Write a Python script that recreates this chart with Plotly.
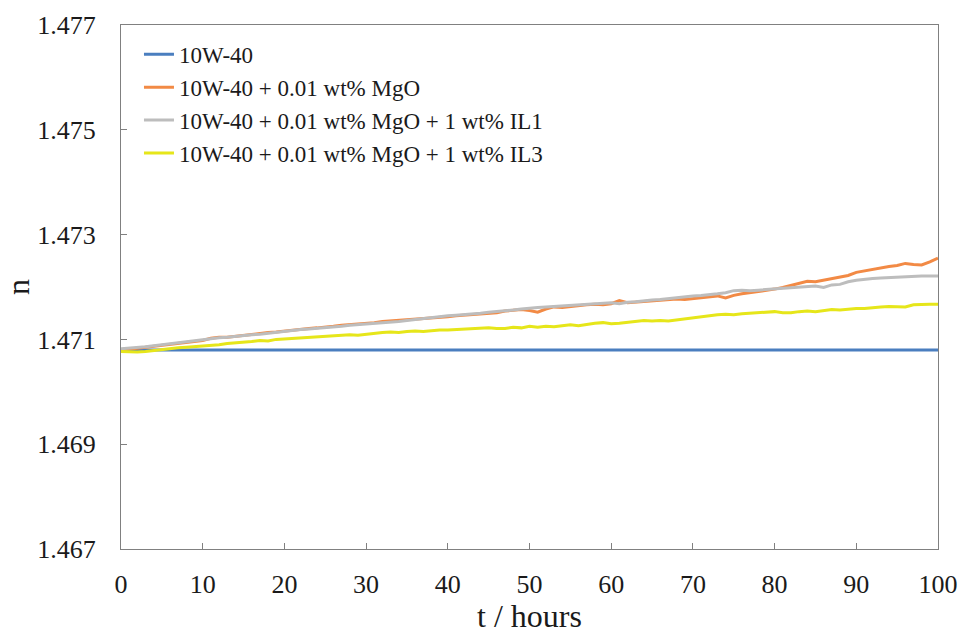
import plotly.graph_objects as go

t_hours = list(range(0, 101))

n_mgo_il1 = [
    1.47082, 1.47083, 1.47084, 1.47086, 1.47088, 1.47090, 1.47091, 1.47094, 1.47095, 1.47097, 1.47099,
    1.47101, 1.47103, 1.47104, 1.47106, 1.47107, 1.47109, 1.47110, 1.47112, 1.47114, 1.47116,
    1.47117, 1.47119, 1.47120, 1.47121, 1.47123, 1.47124, 1.47125, 1.47127, 1.47128, 1.47129,
    1.47130, 1.47132, 1.47133, 1.47134, 1.47136, 1.47138, 1.47139, 1.47141, 1.47143, 1.47145,
    1.47146, 1.47147, 1.47148, 1.47150, 1.47152, 1.47153, 1.47155, 1.47156, 1.47158, 1.47160,
    1.47161, 1.47162, 1.47163, 1.47164, 1.47165, 1.47166, 1.47167, 1.47168, 1.47169, 1.47170,
    1.47168, 1.47171, 1.47172, 1.47174, 1.47175, 1.47176, 1.47178, 1.47180, 1.47181, 1.47183,
    1.47184, 1.47185, 1.47187, 1.47189, 1.47193, 1.47194, 1.47193, 1.47194, 1.47195, 1.47196,
    1.47198, 1.47199, 1.47200, 1.47201, 1.47202, 1.47199, 1.47204, 1.47205, 1.47210, 1.47213,
    1.47215, 1.47216, 1.47217, 1.47218, 1.47219, 1.47220, 1.47220, 1.47221, 1.47221, 1.47221,
]

n_mgo = [
    1.47080, 1.47081, 1.47083, 1.47085, 1.47087, 1.47089, 1.47091, 1.47093, 1.47094, 1.47097, 1.47098,
    1.47102, 1.47104, 1.47104, 1.47106, 1.47108, 1.47109, 1.47111, 1.47113, 1.47114, 1.47116,
    1.47118, 1.47119, 1.47121, 1.47122, 1.47123, 1.47125, 1.47127, 1.47128, 1.47130, 1.47131,
    1.47132, 1.47134, 1.47135, 1.47136, 1.47137, 1.47139, 1.47139, 1.47140, 1.47142, 1.47143,
    1.47145, 1.47146, 1.47147, 1.47149, 1.47150, 1.47151, 1.47154, 1.47156, 1.47157, 1.47155,
    1.47152, 1.47158, 1.47162, 1.47161, 1.47163, 1.47165, 1.47166, 1.47167, 1.47166, 1.47168,
    1.47174, 1.47170, 1.47171, 1.47172, 1.47173, 1.47174, 1.47176, 1.47177, 1.47176, 1.47178,
    1.47180, 1.47181, 1.47183, 1.47179, 1.47184, 1.47187, 1.47189, 1.47192, 1.47194, 1.47196,
    1.47199, 1.47203, 1.47207, 1.47211, 1.47210, 1.47213, 1.47215, 1.47218, 1.47222, 1.47228,
    1.47231, 1.47233, 1.47236, 1.47239, 1.47241, 1.47245, 1.47243, 1.47242, 1.47248, 1.47255,
]

n_mgo_il3 = [
    1.47077, 1.47076, 1.47076, 1.47077, 1.47079, 1.47081, 1.47082, 1.47084, 1.47085, 1.47086, 1.47087,
    1.47089, 1.47090, 1.47092, 1.47093, 1.47094, 1.47096, 1.47098, 1.47097, 1.47100, 1.47101,
    1.47102, 1.47103, 1.47105, 1.47106, 1.47107, 1.47107, 1.47108, 1.47109, 1.47108, 1.47110,
    1.47112, 1.47113, 1.47114, 1.47113, 1.47115, 1.47116, 1.47115, 1.47117, 1.47118, 1.47118,
    1.47119, 1.47119, 1.47121, 1.47122, 1.47122, 1.47121, 1.47121, 1.47123, 1.47122, 1.47125,
    1.47123, 1.47125, 1.47124, 1.47126, 1.47128, 1.47126, 1.47129, 1.47131, 1.47132, 1.47130,
    1.47131, 1.47133, 1.47135, 1.47136, 1.47135, 1.47136, 1.47135, 1.47137, 1.47139, 1.47141,
    1.47143, 1.47146, 1.47147, 1.47148, 1.47147, 1.47149, 1.47150, 1.47151, 1.47152, 1.47153,
    1.47151, 1.47151, 1.47153, 1.47154, 1.47153, 1.47155, 1.47157, 1.47156, 1.47158, 1.47159,
    1.47159, 1.47161, 1.47162, 1.47163, 1.47163, 1.47162, 1.47166, 1.47167, 1.47167, 1.47167,
]

n_base = [1.47080] * len(t_hours)

series_names = [
    "10W-40",
    "10W-40 + 0.01 wt% MgO",
    "10W-40 + 0.01 wt% MgO + 1 wt% IL1",
    "10W-40 + 0.01 wt% MgO + 1 wt% IL3",
]
series_values = [n_base, n_mgo, n_mgo_il1, n_mgo_il3]
series_colors = ["#4a7ebf", "#f28a45", "#bdbdbd", "#e6e61a"]

y_ticks = [1.467, 1.469, 1.471, 1.473, 1.475, 1.477]
x_ticks = list(range(0, 101, 10))

FONT = "Liberation Serif"
TXT = "#1a1a1a"

fig = go.Figure()
for name, vals, col in zip(series_names, series_values, series_colors):
    fig.add_trace(go.Scatter(x=t_hours, y=vals, mode="lines", name=name,
                             line=dict(color=col, width=3)))

axis_common = dict(showline=True, linecolor="#808080", linewidth=1, mirror=True,
                   ticks="inside", ticklen=6, tickcolor="#808080", showgrid=False,
                   zeroline=False, automargin=False,
                   tickfont=dict(family=FONT, size=26, color=TXT))

fig.update_layout(
    width=962, height=634,
    margin=dict(l=121, r=24, t=25, b=85),
    paper_bgcolor="white", plot_bgcolor="white",
    font=dict(family=FONT, color=TXT),
    xaxis=dict(range=[0, 100], tickvals=x_ticks, ticktext=[str(v) for v in x_ticks],
               ticklabelstandoff=12,
               title=dict(text="t / hours", font=dict(family=FONT, size=32, color=TXT), standoff=8),
               **axis_common),
    yaxis=dict(range=[1.467, 1.477], tickvals=y_ticks, ticktext=[f"{v:.3f}" for v in y_ticks],
               ticklabelstandoff=19,
               title=dict(text="n", font=dict(family=FONT, size=32, color=TXT), standoff=30),
               **axis_common),
    legend=dict(x=0.022, y=0.985, xanchor="left", yanchor="top",
                bgcolor="rgba(0,0,0,0)", font=dict(family=FONT, size=23, color=TXT),
                itemwidth=30, tracegroupgap=0),
    showlegend=True,
)

fig.write_html(
    "out.html",
    config={"displayModeBar": False},
    post_script="document.body.style.margin='0';document.body.style.overflow='hidden';",
)
